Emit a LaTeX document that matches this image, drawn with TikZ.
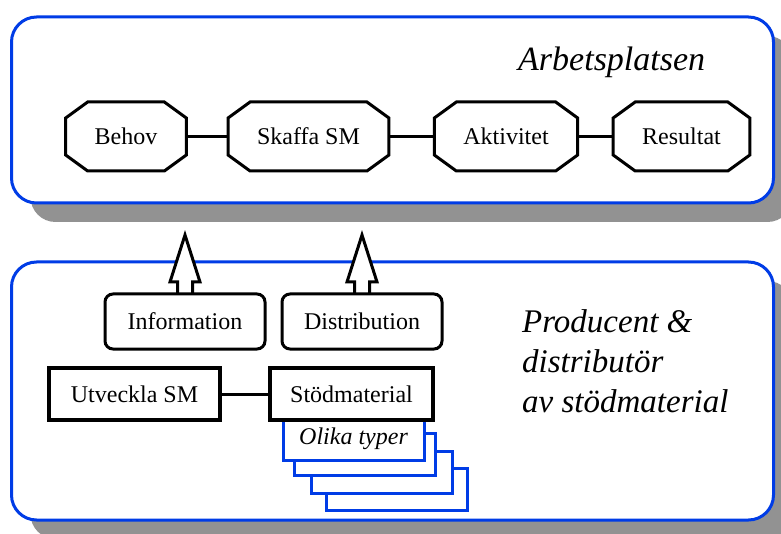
\documentclass[tikz,border=0pt]{standalone}
\usepackage{fontspec}
\setmainfont{Liberation Serif}
\usetikzlibrary{shadows}
\definecolor{panelblue}{RGB}{0,60,230}
\definecolor{shadowgray}{RGB}{146,146,146}

\tikzset{
  panel/.style={draw=panelblue, line width=3pt, rounded corners=25pt, fill=white,
    drop shadow={shadow xshift=19pt, shadow yshift=-19pt, fill=shadowgray, opacity=1}},
  octnode/.style={inner xsep=29pt, inner ysep=0pt, outer sep=0pt, minimum height=69pt,
    font=\fontsize{24}{29}\selectfont},
  octline/.style={line width=3pt},
  roundbox/.style={draw, line width=3pt, rounded corners=8pt, fill=white,
    minimum width=160pt, minimum height=55pt, font=\fontsize{24}{29}\selectfont},
  sqbox/.style={draw, line width=3.5pt, fill=white, minimum height=52pt,
    font=\fontsize{24}{29}\selectfont},
  card/.style={draw=panelblue, line width=3pt, fill=white},
  link/.style={line width=3pt},
  blockarrow/.style={draw, line width=3pt, fill=white, line join=miter},
  bigitalic/.style={inner sep=0pt, font=\itshape\fontsize{#1}{40}\selectfont}
}

\begin{document}
\begin{tikzpicture}[x=1pt, y=-1pt]
    \useasboundingbox (0,0) rectangle (781,534);

    % Panels
    \node[panel, minimum width=762pt, minimum height=186pt] (work) at (392.5,110) {};
    \node[panel, minimum width=762pt, minimum height=258pt] (prod) at (392.5,391) {};

    % Workplace chain
    \node[bigitalic=34, anchor=base west] (worklabel) at (518,71) {Arbetsplatsen};
    \node[octnode] (behov) at (126,136.5) {Behov};
    \node[octnode] (skaffa) at (308.5,136.5) {Skaffa SM};
    \node[octnode] (aktiv) at (506,136.5) {Aktivitet};
    \node[octnode] (result) at (681.5,136.5) {Resultat};
    \foreach \n in {behov,skaffa,aktiv,result}
        \draw[octline] ([xshift=22pt]\n.north west) -- ([xshift=-22pt]\n.north east)
            -- ([yshift=-16pt]\n.north east) -- ([yshift=16pt]\n.south east)
            -- ([xshift=-22pt]\n.south east) -- ([xshift=22pt]\n.south west)
            -- ([yshift=16pt]\n.south west) -- ([yshift=-16pt]\n.north west) -- cycle;
    \draw[link] (behov) -- (skaffa);
    \draw[link] (skaffa) -- (aktiv);
    \draw[link] (aktiv) -- (result);

    % Producer side
    \node[bigitalic=33, anchor=north west, align=left] (prodlabel) at (522,309)
        {Producent \&\\distributör\\av stödmaterial};

    \coordinate (infotop) at (185,294);
    \coordinate (distrtop) at (362,294);
    \foreach \b in {infotop,distrtop}
        \draw[blockarrow] ([xshift=-7.5pt]\b) -- ++(0,-12) -- ++(-7.5,0) -- ++(15,-47)
            -- ++(15,47) -- ++(-7.5,0) -- ++(0,14);
    \node[roundbox] (info) at (185,321.5) {Information};
    \node[roundbox] (distr) at (362,321.5) {Distribution};

    % Stack of material types
    \foreach \dx/\dy in {43/50, 28/33, 11/15}
        \draw[card] (283+\dx,418+\dy) rectangle ++(141,42);
    \node[card, minimum width=141pt, minimum height=42pt, font=\itshape\fontsize{24}{29}\selectfont]
        (types) at (353.5,439) {Olika typer};

    \node[sqbox, minimum width=171pt] (utveckla) at (134.5,394) {Utveckla SM};
    \node[sqbox, minimum width=163pt] (stod) at (351.5,394) {Stödmaterial};
    \draw[link] (utveckla) -- (stod);
\end{tikzpicture}
\end{document}
